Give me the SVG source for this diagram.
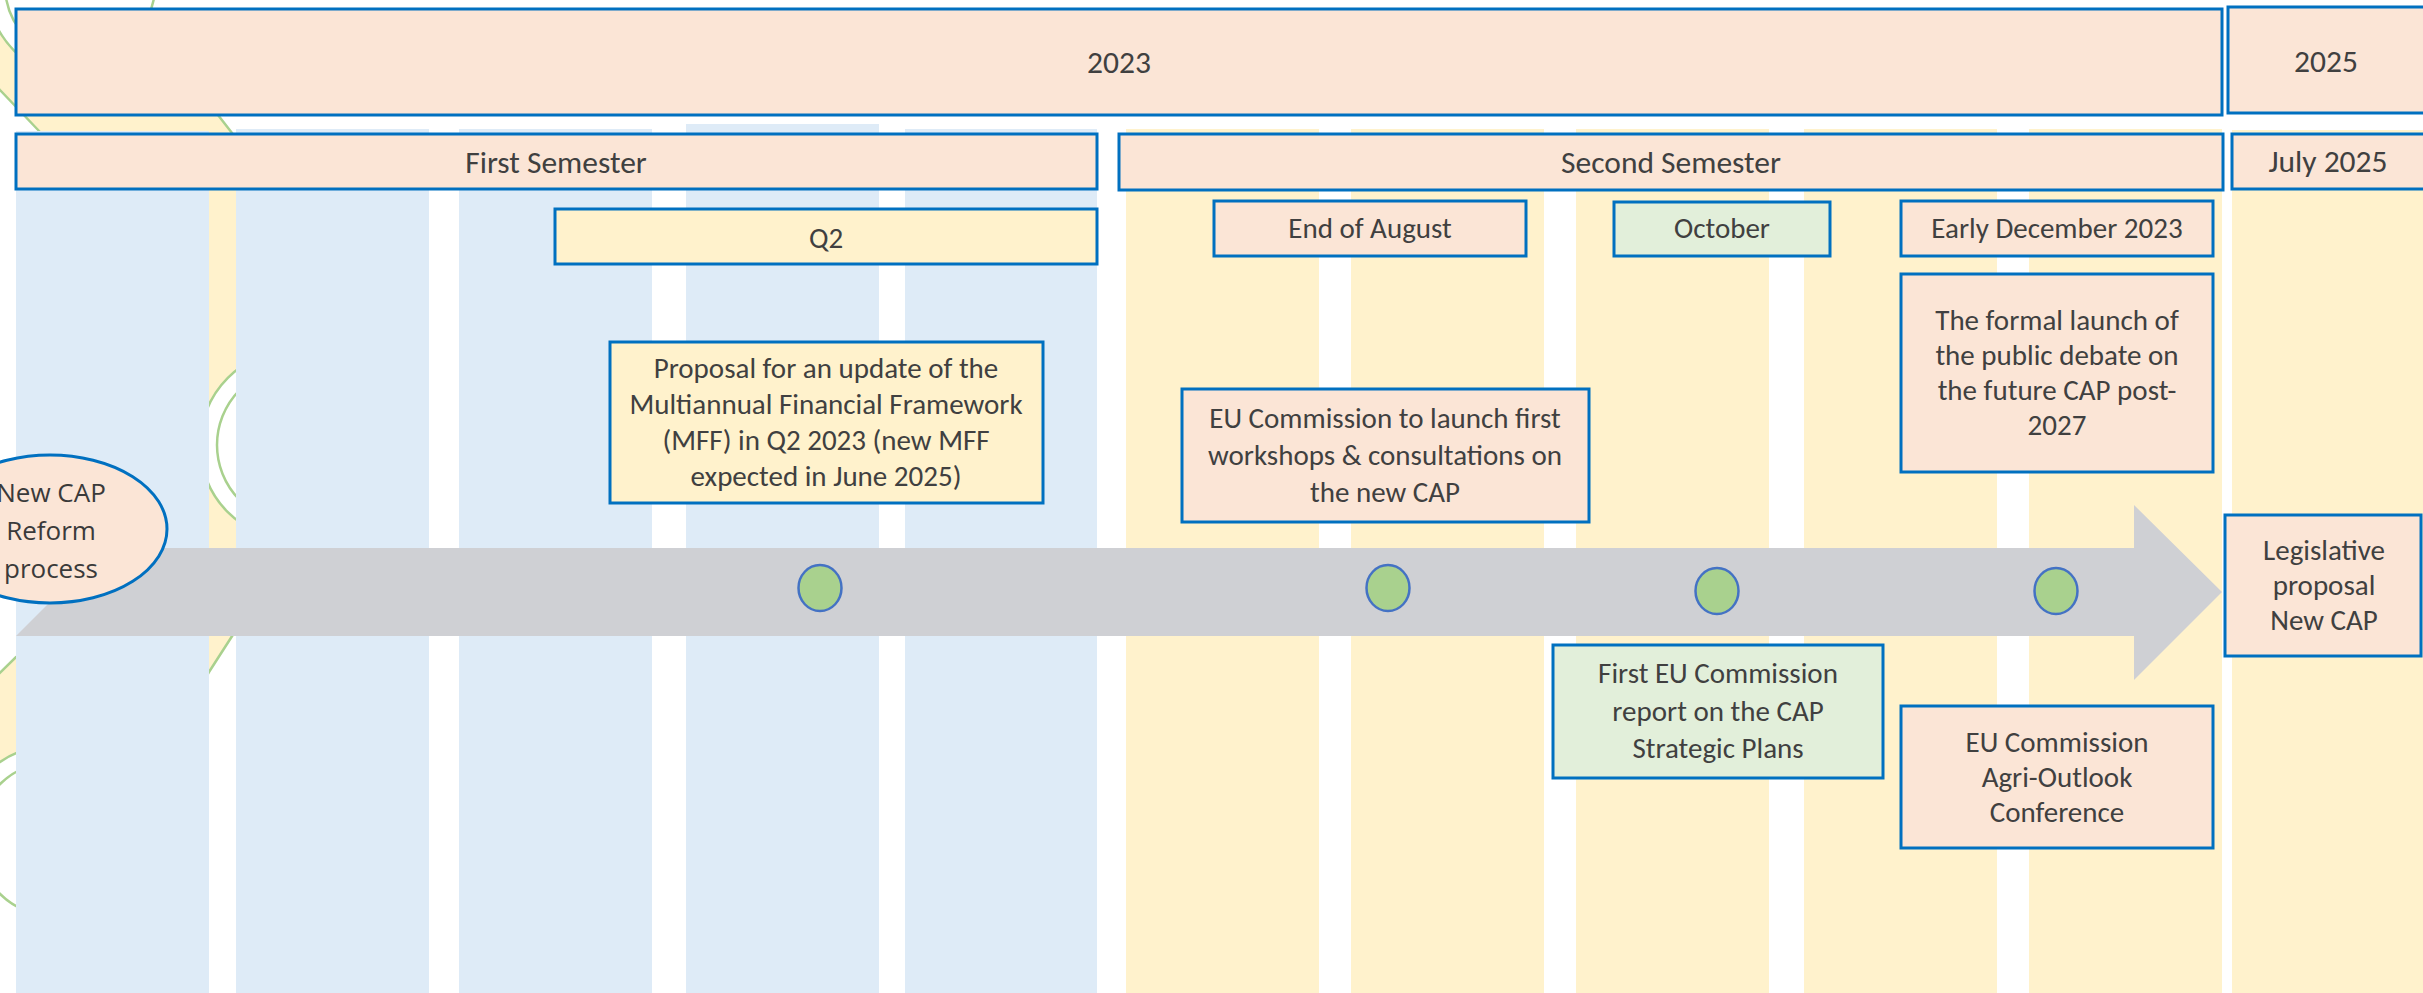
<svg xmlns="http://www.w3.org/2000/svg" width="2423" height="993" viewBox="0 0 2423 993">
  <style>
    .col-b { fill: #DEEBF7; }
    .col-y { fill: #FFF2CC; }
    .box { stroke: #0070C0; stroke-width: 3; }
    .peach { fill: #FBE5D6; }
    .cream { fill: #FFF2CC; }
    .mint { fill: #E2EFDA; }
    .t { font-family: Carlito, Calibri, Lato, "Liberation Sans", sans-serif; font-weight: 300; fill: #404040; text-anchor: middle; }
    .hd { font-size: 31.5px; }
    .bx { font-size: 29px; }
    .el { font-family: "Open Sans", "Noto Sans", sans-serif; font-size: 26px; fill: #3A3A3A; text-anchor: middle; }
    .deco { fill: #FFF2CC; stroke: #A9D18E; stroke-width: 2.5; }
    .ring-out { fill: #FFFFFF; }
    .ring-edge { fill: none; stroke: #A9D18E; stroke-width: 2.5; }
    .ring-in { fill: #FFFFFF; stroke: #A9D18E; stroke-width: 2.5; }
    .dot { fill: #A9D18E; stroke: #4472C4; stroke-width: 2.5; }
  </style>
  <defs>
    <path id="bandShape" d="M -100,-20 L 0,90 L 40,132 C 110,205 175,300 188,420 C 195,520 120,600 16,657 L -80,752 L -20,840 L 60,860 L 140,790 L 209,672 L 236,630 C 330,580 410,500 405,430 C 400,330 320,230 232,133 L 218,115 L 128,0 L 100,-40 Z"/>
    <clipPath id="bandClip">
      <use href="#bandShape"/>
    </clipPath>
  </defs>

  <rect width="2423" height="993" fill="#FFFFFF"/>

  <!-- decorative band with rings, mostly hidden behind the month columns -->
  <g id="decoration">
    <use href="#bandShape" class="deco"/>
    <circle class="ring-out" cx="80" cy="-15" r="93"/>
    <circle class="ring-edge" cx="80" cy="-15" r="93" clip-path="url(#bandClip)"/>
    <circle class="ring-in" cx="80" cy="-15" r="75"/>
    <circle class="ring-out" cx="295" cy="445" r="95"/>
    <circle class="ring-edge" cx="295" cy="445" r="95" clip-path="url(#bandClip)"/>
    <circle class="ring-in" cx="295" cy="445" r="78"/>
    <circle class="ring-out" cx="54" cy="839" r="94"/>
    <circle class="ring-edge" cx="54" cy="839" r="94" clip-path="url(#bandClip)"/>
    <circle class="ring-in" cx="54" cy="839" r="77"/>
  </g>

  <!-- month columns -->
  <g id="columns">
    <rect class="col-b" x="16" y="131" width="193" height="862"/>
    <rect class="col-b" x="236" y="129" width="193" height="864"/>
    <rect class="col-b" x="459" y="129" width="193" height="864"/>
    <rect class="col-b" x="686" y="124" width="193" height="869"/>
    <rect class="col-b" x="905" y="129" width="192" height="864"/>
    <rect class="col-y" x="1126" y="129" width="193" height="864"/>
    <rect class="col-y" x="1351" y="129" width="193" height="864"/>
    <rect class="col-y" x="1576" y="129" width="193" height="864"/>
    <rect class="col-y" x="1804" y="129" width="193" height="864"/>
    <rect class="col-y" x="2029" y="129" width="193" height="864"/>
    <rect class="col-y" x="2232" y="130" width="191" height="863"/>
  </g>

  <!-- year / period headers -->
  <g id="year-2023">
    <rect class="box peach" x="16" y="9" width="2206" height="106"/>
    <text class="t hd" x="1119" y="73">2023</text>
  </g>
  <g id="year-2025">
    <rect class="box peach" x="2228" y="7" width="200" height="106"/>
    <text class="t hd" x="2326" y="72">2025</text>
  </g>
  <g id="first-semester">
    <rect class="box peach" x="16" y="134" width="1081" height="55"/>
    <text class="t hd" x="556" y="173">First Semester</text>
  </g>
  <g id="second-semester">
    <rect class="box peach" x="1119" y="134" width="1104" height="56"/>
    <text class="t hd" x="1671" y="173">Second Semester</text>
  </g>
  <g id="july-2025">
    <rect class="box peach" x="2232" y="134" width="196" height="55"/>
    <text class="t hd" x="2328" y="172">July 2025</text>
  </g>

  <!-- timeline arrow and milestones -->
  <g id="connectors">
    <polygon points="104,548 2134,548 2134,505 2222,592 2134,680 2134,636 16,636" fill="#CFD0D4"/>
    <ellipse class="dot" cx="820" cy="588" rx="21.5" ry="23"/>
    <ellipse class="dot" cx="1388" cy="588" rx="21.5" ry="23"/>
    <ellipse class="dot" cx="1717" cy="591" rx="21.5" ry="23"/>
    <ellipse class="dot" cx="2056" cy="591" rx="21.5" ry="23"/>
  </g>

  <g id="q2">
    <rect class="box cream" x="555" y="209" width="542" height="55"/>
    <text class="t bx" x="826" y="248">Q2</text>
  </g>
  <g id="end-of-august">
    <rect class="box peach" x="1214" y="201" width="312" height="55"/>
    <text class="t bx" x="1370" y="238">End of August</text>
  </g>
  <g id="october">
    <rect class="box mint" x="1614" y="202" width="216" height="54"/>
    <text class="t bx" x="1722" y="238">October</text>
  </g>
  <g id="early-december">
    <rect class="box peach" x="1901" y="201" width="312" height="55"/>
    <text class="t bx" x="2057" y="238">Early December 2023</text>
  </g>

  <g id="mff-proposal">
    <rect class="box cream" x="610" y="342" width="433" height="161"/>
    <text class="t bx" x="826" y="378">Proposal for an update of the</text>
    <text class="t bx" x="826" y="414">Multiannual Financial Framework</text>
    <text class="t bx" x="826" y="450">(MFF) in Q2 2023 (new MFF</text>
    <text class="t bx" x="826" y="486">expected in June 2025)</text>
  </g>
  <g id="workshops">
    <rect class="box peach" x="1182" y="389" width="407" height="133"/>
    <text class="t bx" x="1385" y="428">EU Commission to launch first</text>
    <text class="t bx" x="1385" y="465">workshops &amp; consultations on</text>
    <text class="t bx" x="1385" y="502">the new CAP</text>
  </g>
  <g id="public-debate">
    <rect class="box peach" x="1901" y="274" width="312" height="198"/>
    <text class="t bx" x="2057" y="330">The formal launch of</text>
    <text class="t bx" x="2057" y="365">the public debate on</text>
    <text class="t bx" x="2057" y="400">the future CAP post-</text>
    <text class="t bx" x="2057" y="435">2027</text>
  </g>
  <g id="strategic-plans-report">
    <rect class="box mint" x="1553" y="645" width="330" height="133"/>
    <text class="t bx" x="1718" y="683">First EU Commission</text>
    <text class="t bx" x="1718" y="721">report on the CAP</text>
    <text class="t bx" x="1718" y="758">Strategic Plans</text>
  </g>
  <g id="agri-outlook">
    <rect class="box peach" x="1901" y="706" width="312" height="142"/>
    <text class="t bx" x="2057" y="752">EU Commission</text>
    <text class="t bx" x="2057" y="787">Agri-Outlook</text>
    <text class="t bx" x="2057" y="822">Conference</text>
  </g>
  <g id="legislative-proposal">
    <rect class="box peach" x="2225" y="515" width="196" height="141"/>
    <text class="t bx" x="2324" y="560">Legislative</text>
    <text class="t bx" x="2324" y="595">proposal</text>
    <text class="t bx" x="2324" y="630">New CAP</text>
  </g>

  <g id="reform-process">
    <ellipse class="box peach" cx="50" cy="529" rx="117" ry="74"/>
    <text class="el" x="51" y="502">New CAP</text>
    <text class="el" x="51" y="540">Reform</text>
    <text class="el" x="51" y="578">process</text>
  </g>
</svg>
